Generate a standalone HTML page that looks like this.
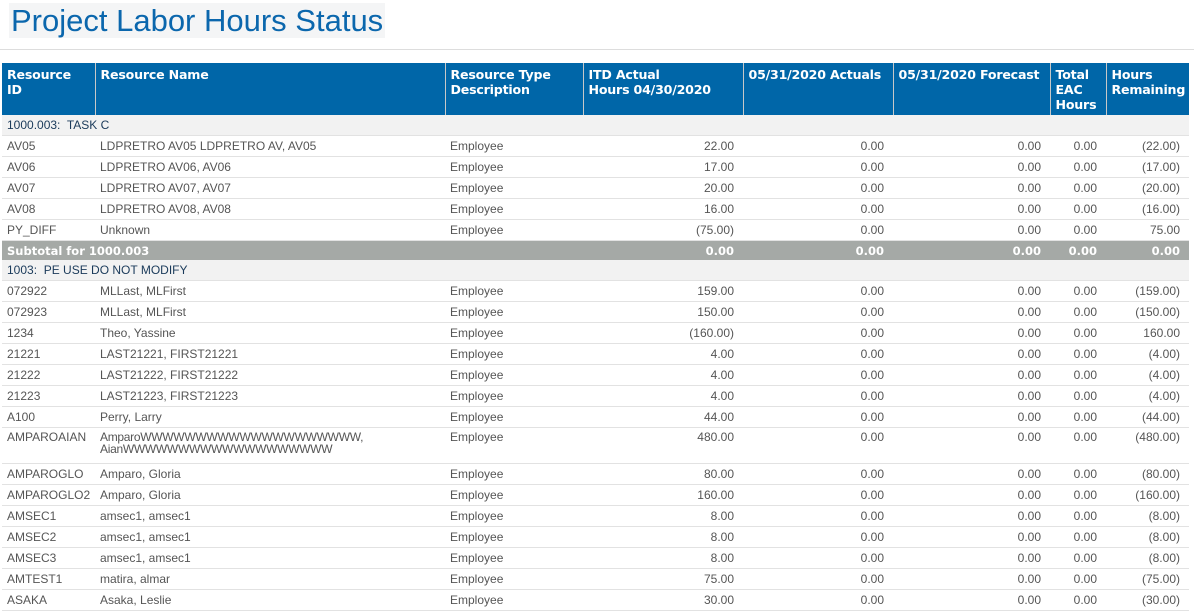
<!DOCTYPE html>
<html><head><meta charset="utf-8">
<style>
body{margin:0;width:1194px;height:615px;overflow:hidden;background:#fff;font-family:"Liberation Sans",Arial,sans-serif;}
.title{position:absolute;left:9px;top:3px;width:376px;height:35px;background:#f4f5f6;color:#0b67ad;font-size:31px;line-height:35px;padding-left:2px;box-sizing:border-box;white-space:nowrap;}
.hr{position:absolute;left:0;top:49px;width:1194px;height:1px;background:#ddd;}
table{position:absolute;left:2px;top:63px;border-collapse:collapse;table-layout:fixed;width:1187px;}
th{background:#0066a8;color:#fff;font-family:"DejaVu Sans",sans-serif;font-weight:bold;font-size:12.6px;text-align:left;vertical-align:top;padding:4px 4px 0 5px;height:48px;border-left:1px solid #c8c8c8;line-height:15px;letter-spacing:-0.2px;}
th:first-child{border-left:none;}
td{font-size:12px;color:#555;height:20px;padding:0 5px;border-bottom:1px solid #e2e2e2;white-space:nowrap;}
td.n{text-align:right;padding-right:9px;}
tr.g td{background:#f2f2f2;color:#1a3a5a;font-size:12px;}
tr.s td{background:#a5a9a6;color:#fff;font-weight:bold;font-size:11.5px;font-family:"DejaVu Sans",sans-serif;height:19px;border-bottom:none;}
tr.t td{height:32px;line-height:12px;vertical-align:top;padding-top:3px;}
</style></head><body>
<div class="title">Project Labor Hours Status</div>
<div class="hr"></div>
<table>
<colgroup><col style="width:93px"><col style="width:350px"><col style="width:138px"><col style="width:160px"><col style="width:150px"><col style="width:157px"><col style="width:56px"><col style="width:83px"></colgroup>
<tr><th>Resource<br>ID</th><th>Resource Name</th><th>Resource Type Description</th><th>ITD Actual<br>Hours 04/30/2020</th><th>05/31/2020 Actuals</th><th>05/31/2020 Forecast</th><th>Total EAC Hours</th><th>Hours Remaining</th></tr>
<tr class="g"><td colspan="8">1000.003:&nbsp; TASK C</td></tr>
<tr><td>AV05</td><td>LDPRETRO AV05 LDPRETRO AV, AV05</td><td>Employee</td><td class="n">22.00</td><td class="n">0.00</td><td class="n">0.00</td><td class="n">0.00</td><td class="n">(22.00)</td></tr>
<tr><td>AV06</td><td>LDPRETRO AV06, AV06</td><td>Employee</td><td class="n">17.00</td><td class="n">0.00</td><td class="n">0.00</td><td class="n">0.00</td><td class="n">(17.00)</td></tr>
<tr><td>AV07</td><td>LDPRETRO AV07, AV07</td><td>Employee</td><td class="n">20.00</td><td class="n">0.00</td><td class="n">0.00</td><td class="n">0.00</td><td class="n">(20.00)</td></tr>
<tr><td>AV08</td><td>LDPRETRO AV08, AV08</td><td>Employee</td><td class="n">16.00</td><td class="n">0.00</td><td class="n">0.00</td><td class="n">0.00</td><td class="n">(16.00)</td></tr>
<tr><td>PY_DIFF</td><td>Unknown</td><td>Employee</td><td class="n">(75.00)</td><td class="n">0.00</td><td class="n">0.00</td><td class="n">0.00</td><td class="n">75.00</td></tr>
<tr class="s"><td colspan="3">Subtotal for 1000.003</td><td class="n">0.00</td><td class="n">0.00</td><td class="n">0.00</td><td class="n">0.00</td><td class="n">0.00</td></tr>
<tr class="g"><td colspan="8">1003:&nbsp; PE USE DO NOT MODIFY</td></tr>
<tr><td>072922</td><td>MLLast, MLFirst</td><td>Employee</td><td class="n">159.00</td><td class="n">0.00</td><td class="n">0.00</td><td class="n">0.00</td><td class="n">(159.00)</td></tr>
<tr><td>072923</td><td>MLLast, MLFirst</td><td>Employee</td><td class="n">150.00</td><td class="n">0.00</td><td class="n">0.00</td><td class="n">0.00</td><td class="n">(150.00)</td></tr>
<tr><td>1234</td><td>Theo, Yassine</td><td>Employee</td><td class="n">(160.00)</td><td class="n">0.00</td><td class="n">0.00</td><td class="n">0.00</td><td class="n">160.00</td></tr>
<tr><td>21221</td><td>LAST21221, FIRST21221</td><td>Employee</td><td class="n">4.00</td><td class="n">0.00</td><td class="n">0.00</td><td class="n">0.00</td><td class="n">(4.00)</td></tr>
<tr><td>21222</td><td>LAST21222, FIRST21222</td><td>Employee</td><td class="n">4.00</td><td class="n">0.00</td><td class="n">0.00</td><td class="n">0.00</td><td class="n">(4.00)</td></tr>
<tr><td>21223</td><td>LAST21223, FIRST21223</td><td>Employee</td><td class="n">4.00</td><td class="n">0.00</td><td class="n">0.00</td><td class="n">0.00</td><td class="n">(4.00)</td></tr>
<tr><td>A100</td><td>Perry, Larry</td><td>Employee</td><td class="n">44.00</td><td class="n">0.00</td><td class="n">0.00</td><td class="n">0.00</td><td class="n">(44.00)</td></tr>
<tr class="t"><td>AMPAROAIAN</td><td><span style="letter-spacing:-0.3px">AmparoWWWWWWWWWWWWWWWWWWWW,<br>AianWWWWWWWWWWWWWWWWWWW</span></td><td>Employee</td><td class="n">480.00</td><td class="n">0.00</td><td class="n">0.00</td><td class="n">0.00</td><td class="n">(480.00)</td></tr>
<tr><td>AMPAROGLO</td><td>Amparo, Gloria</td><td>Employee</td><td class="n">80.00</td><td class="n">0.00</td><td class="n">0.00</td><td class="n">0.00</td><td class="n">(80.00)</td></tr>
<tr><td>AMPAROGLO2</td><td>Amparo, Gloria</td><td>Employee</td><td class="n">160.00</td><td class="n">0.00</td><td class="n">0.00</td><td class="n">0.00</td><td class="n">(160.00)</td></tr>
<tr><td>AMSEC1</td><td>amsec1, amsec1</td><td>Employee</td><td class="n">8.00</td><td class="n">0.00</td><td class="n">0.00</td><td class="n">0.00</td><td class="n">(8.00)</td></tr>
<tr><td>AMSEC2</td><td>amsec1, amsec1</td><td>Employee</td><td class="n">8.00</td><td class="n">0.00</td><td class="n">0.00</td><td class="n">0.00</td><td class="n">(8.00)</td></tr>
<tr><td>AMSEC3</td><td>amsec1, amsec1</td><td>Employee</td><td class="n">8.00</td><td class="n">0.00</td><td class="n">0.00</td><td class="n">0.00</td><td class="n">(8.00)</td></tr>
<tr><td>AMTEST1</td><td>matira, almar</td><td>Employee</td><td class="n">75.00</td><td class="n">0.00</td><td class="n">0.00</td><td class="n">0.00</td><td class="n">(75.00)</td></tr>
<tr><td>ASAKA</td><td>Asaka, Leslie</td><td>Employee</td><td class="n">30.00</td><td class="n">0.00</td><td class="n">0.00</td><td class="n">0.00</td><td class="n">(30.00)</td></tr>
</table>
</body></html>
